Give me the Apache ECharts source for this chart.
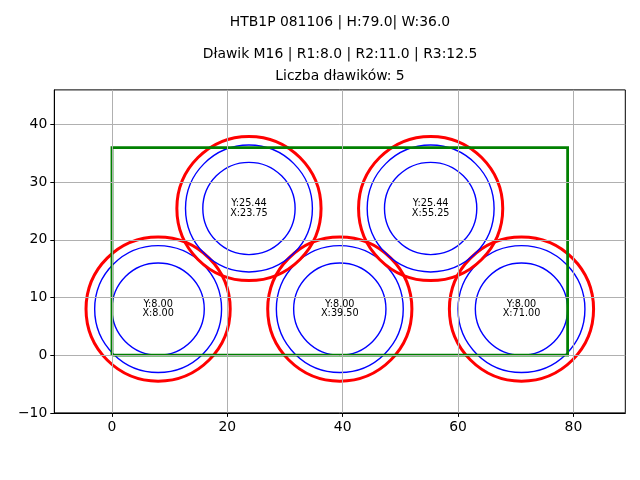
<!DOCTYPE html>
<html>
<head>
<meta charset="utf-8">
<style>
  html, body { margin: 0; padding: 0; background: #fff; }
  #chart { width: 640px; height: 480px; }
</style>
<script src="https://cdn.jsdelivr.net/npm/echarts@6/dist/echarts.min.js"></script>
</head>
<body>
<div id="chart"></div>
<script>
const centerX = [8, 39.5, 71, 23.75, 55.25]
const centerY = [8, 8, 8, 25.44, 25.44]
const radii = [8, 11, 12.5]
const radiusColors = ['#0000ff', '#0000ff', '#ff0000']
const radiusWidths = [1.4, 1.4, 3]
const boxX = [0, 79, 79, 0, 0]
const boxY = [0, 0, 36, 36, 0]
const xTicks = [0, 20, 40, 60, 80]
const yTicks = [-10, 0, 10, 20, 30, 40]
const titleLines = [
  'HTB1P 081106 | H:79.0| W:36.0',
  'Dławik M16 | R1:8.0 | R2:11.0 | R3:12.5',
  'Liczba dławików: 5'
]
const titleTops = [15, 47, 69]

const font = 'DejaVu Sans'

const ringData = []
centerX.forEach((x, i) => {
  radii.forEach((r, j) => ringData.push([x, centerY[i], r, j]))
})

function renderRing(params, api) {
  const c = api.coord([api.value(0), api.value(1)])
  const r = api.size([api.value(2), 0])[0]
  const j = api.value(3)
  return {
    type: 'circle',
    shape: { cx: c[0], cy: c[1], r },
    style: { fill: 'none', stroke: radiusColors[j], lineWidth: radiusWidths[j] }
  }
}

function renderLabel(params, api) {
  const c = api.coord([api.value(0), api.value(1)])
  return {
    type: 'text',
    style: {
      x: c[0],
      y: c[1],
      text: 'Y:' + api.value(1).toFixed(2) + '\nX:' + api.value(0).toFixed(2),
      fontFamily: font,
      fontSize: 9.7,
      lineHeight: 9.5,
      fill: '#000',
      align: 'center',
      verticalAlign: 'middle'
    }
  }
}

// the grid sits above the rings and the box, so the axes get a higher z than those series
const axisCommon = {
  type: 'value',
  z: 3,
  axisLine: { onZero: false, lineStyle: { color: '#000', width: 1 } },
  axisTick: { length: 4, lineStyle: { color: '#000', width: 1 } },
  axisLabel: { color: '#000', fontFamily: font, fontSize: 13.9, margin: 7 },
  splitLine: { show: true, lineStyle: { color: '#b0b0b0', width: 1 } }
}

const chart = echarts.init(document.getElementById('chart'))
chart.setOption({
  animation: false,
  title: titleLines.map((text, i) => ({
    text,
    left: 340,
    top: titleTops[i],
    padding: 0,
    textAlign: 'center',
    textStyle: { fontFamily: font, fontSize: 13.9, fontWeight: 'normal', color: '#000' }
  })),
  grid: { left: 54.3, right: 14.7, top: 89.9, bottom: 67.1, show: true, borderColor: '#000', borderWidth: 1 },
  xAxis: {
    ...axisCommon,
    min: -10,
    max: 89,
    position: 'bottom',
    axisTick: { ...axisCommon.axisTick, customValues: xTicks },
    axisLabel: { ...axisCommon.axisLabel, customValues: xTicks }
  },
  yAxis: {
    ...axisCommon,
    min: -10,
    max: 46,
    position: 'left',
    axisTick: { ...axisCommon.axisTick, customValues: yTicks },
    axisLabel: {
      ...axisCommon.axisLabel,
      customValues: yTicks,
      formatter: v => String(v).replace('-', '\u2212')
    }
  },
  series: [
    {
      type: 'custom',
      renderItem: renderRing,
      data: ringData,
      clip: false,
      z: 1
    },
    {
      type: 'line',
      data: boxX.map((x, i) => [x, boxY[i]]),
      showSymbol: false,
      lineStyle: { color: '#008000', width: 2.8, join: 'miter' },
      z: 2
    },
    {
      type: 'custom',
      renderItem: renderLabel,
      data: centerX.map((x, i) => [x, centerY[i]]),
      z: 5
    }
  ]
})
</script>
</body>
</html>
